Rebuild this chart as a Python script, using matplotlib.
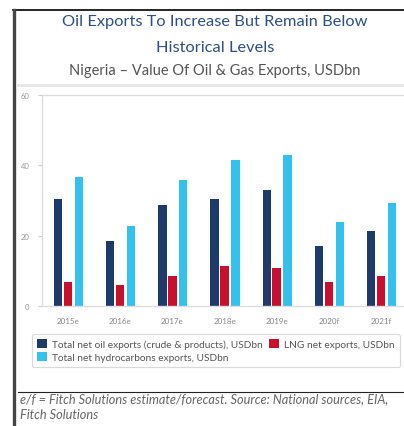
"""Nigeria oil & gas exports chart (Fitch style)."""

import matplotlib
matplotlib.use("Agg")
import matplotlib.pyplot as plt
from matplotlib.lines import Line2D
import numpy as np

plt.rcParams["font.family"] = ["Lato", "DejaVu Sans"]

YEARS = ["2015e", "2016e", "2017e", "2018e", "2019e", "2020f", "2021f"]
OIL = [30.4, 18.6, 28.7, 30.5, 33.1, 17.0, 21.2]
LNG = [6.8, 5.9, 8.5, 11.3, 10.7, 6.8, 8.5]
HYDRO = [36.6, 22.8, 35.8, 41.6, 43.0, 23.8, 29.4]
Y_TICKS = [0, 20, 40, 60]

NAVY = "#1d3a6a"
RED = "#c8102e"
LIGHT = "#33c1ee"

W, H = 404, 427
fig = plt.figure(figsize=(W / 100, H / 100), dpi=100)


def fx(px):
    return px / W


def fy(py):
    return 1 - py / H


# ── page furniture ─────────────────────────────────────────────────────────
fig.add_artist(Line2D([fx(13), 1], [fy(11), fy(11)], color="black", lw=1.2))
fig.add_artist(Line2D([fx(14), fx(14)], [fy(11), 0], color="#444444", lw=2.4))
fig.add_artist(Line2D([fx(17), 1], [fy(86), fy(86)], color="#e6e6e6", lw=2.0))
fig.add_artist(Line2D([fx(18), 1], [fy(393), fy(393)], color="#222222", lw=0.8))

fig.text(fx(215), fy(22), "Oil Exports To Increase But Remain Below",
         ha="center", va="center", fontsize=11.8, color="#2f4f85")
fig.text(fx(215), fy(48), "Historical Levels",
         ha="center", va="center", fontsize=11.8, color="#2f4f85")
fig.text(fx(215), fy(71), "Nigeria \u2013 Value Of Oil & Gas Exports, USDbn",
         ha="center", va="center", fontsize=10.5, color="#555555")

fig.text(fx(20), fy(399), "e/f = Fitch Solutions estimate/forecast. Source: National sources, EIA,",
         ha="left", va="center", fontsize=9.2, style="italic", color="#666666")
fig.text(fx(20), fy(415), "Fitch Solutions",
         ha="left", va="center", fontsize=9.2, style="italic", color="#666666")

# ── bars ───────────────────────────────────────────────────────────────────
ax = fig.add_axes([fx(42), fy(307), 365 / W, (307 - 96) / H])
x = np.arange(len(YEARS))
bw = 0.16
ax.bar(x - 0.19, OIL, width=bw, color=NAVY, label="Total net oil exports (crude & products), USDbn")
ax.bar(x, LNG, width=bw, color=RED, label="LNG net exports, USDbn")
ax.bar(x + 0.21, HYDRO, width=bw, color=LIGHT, label="Total net hydrocarbons exports, USDbn")

ax.set_xlim(-0.5, len(YEARS) - 0.5)
ax.set_ylim(0, 60)
ax.set_yticks(Y_TICKS)
ax.set_yticklabels([str(v) for v in Y_TICKS], fontsize=5.5, color="#999999")
ax.set_xticks(x)
ax.set_xticklabels(YEARS, fontsize=5.8, color="#888888")
ax.tick_params(axis="y", length=3, color="#cccccc", pad=6)
ax.tick_params(axis="x", length=0, pad=8)
for side in ["top", "left", "bottom"]:
    ax.spines[side].set_color("#dddddd")
    ax.spines[side].set_linewidth(1.0)
ax.spines["right"].set_visible(False)

handles, labels = ax.get_legend_handles_labels()
order = [0, 2, 1]
leg = ax.legend([handles[i] for i in order], [labels[i] for i in order],
                ncol=2, loc="center", mode="expand",
                bbox_to_anchor=(fx(32), fy(370), 368 / W, 37 / H),
                bbox_transform=fig.transFigure,
                fontsize=7.3, frameon=True, fancybox=True,
                handlelength=1.0, handleheight=1.0, handletextpad=0.5,
                labelspacing=0.35, borderpad=0.5, borderaxespad=0)
leg.get_frame().set_edgecolor("#d0d0d0")
leg.get_frame().set_linewidth(0.8)
for t in leg.get_texts():
    t.set_color("#555555")

plt.savefig("out.png", dpi=100)
print("Saved out.png")
